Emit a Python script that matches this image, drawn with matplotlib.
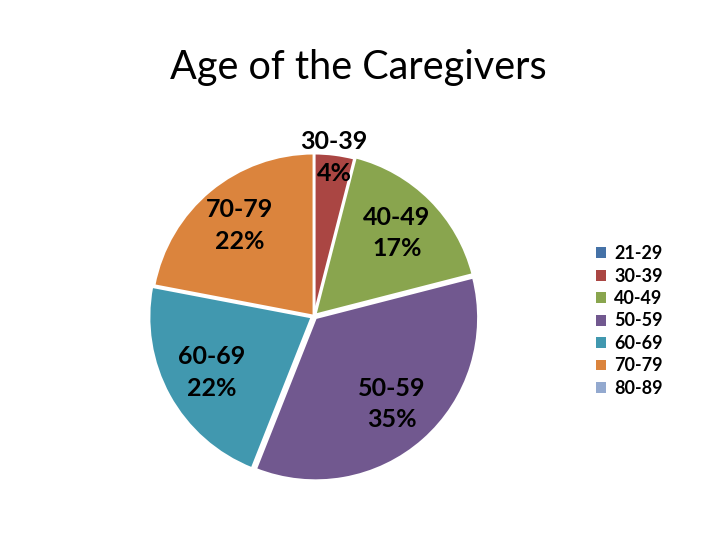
import numpy as np
import matplotlib
matplotlib.use("Agg")
import matplotlib.pyplot as plt
from matplotlib.patches import Patch

categories = ["21-29", "30-39", "40-49", "50-59", "60-69", "70-79", "80-89"]
values = [0, 4, 17, 35, 22, 22, 0]
colors = ["#4572A7", "#AA4643", "#89A54E", "#71588F", "#4198AF", "#DB843D", "#93A9CF"]

plt.rcParams['font.family'] = ['Lato', 'DejaVu Sans']

fig = plt.figure(figsize=(7.2, 5.4), dpi=100)
R = 166
cx, cy = 314, 316
ax = fig.add_axes([(cx - R) / 720, (540 - cy - R) / 540, 2 * R / 720, 2 * R / 540])

explode = [0, 0, 0.01, 0.015, 0.015, 0, 0]
wedges, _ = ax.pie(values, colors=colors, startangle=90, counterclock=False,
                   explode=explode, radius=1.0,
                   wedgeprops=dict(edgecolor="white", linewidth=1.8))
ax.set_xlim(-1.02, 1.02)
ax.set_ylim(-1.02, 1.02)
ax.set_aspect('equal')
ax.axis('off')

total = sum(values)
for w, cat, v in zip(wedges, categories, values):
    if v == 0:
        continue
    mid = np.deg2rad((w.theta1 + w.theta2) / 2)
    r = 0.98 if v / total < 0.08 else 0.72
    ax.text(r * np.cos(mid), r * np.sin(mid), f"{cat}\n{v}%", ha="center", va="center",
            fontsize=18, fontweight="bold", linespacing=1.45, color="black")

fig.text(0.498, 0.875, "Age of the Caregivers", ha="center", va="center", fontsize=28.5)

handles = [Patch(facecolor=c, edgecolor="none") for c in colors]
fig.legend(handles, categories, loc="upper left", bbox_to_anchor=(580 / 720, 1 - 229 / 540),
           frameon=False, handlelength=0.55, handleheight=0.55,
           handletextpad=0.45, labelspacing=0.3, prop=dict(weight="bold", size=13))

fig.savefig("out.png", dpi=100)
